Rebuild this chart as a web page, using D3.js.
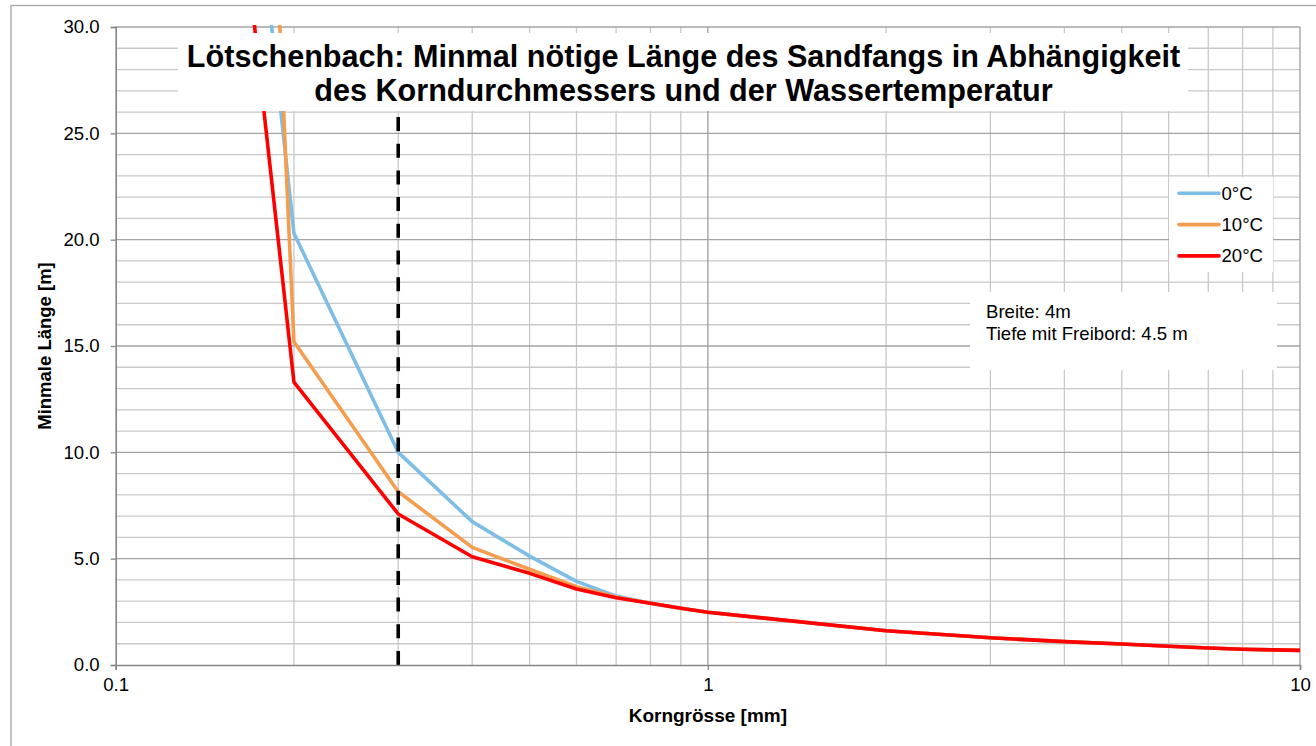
<!DOCTYPE html>
<html>
<head>
<meta charset="utf-8">
<script src="https://cdn.jsdelivr.net/npm/d3@7"></script>
<style>
  html, body { margin: 0; padding: 0; background: #fff; }
  svg { display: block; font-family: Arial, "Liberation Sans", sans-serif; }
</style>
</head>
<body>
<svg id="chart" width="1316" height="746"></svg>
<script>
// Grain size [mm]
const grainSizes = [0.1, 0.2, 0.3, 0.4, 0.5, 0.6, 0.7, 0.8, 0.9, 1, 2, 3, 4, 5, 6, 7, 8, 9, 10];
// Minimal settling-basin length [m] per water temperature
const length0C  = [98, 20.3, 10.0, 6.74, 5.12, 3.93, 3.24, 2.9, 2.67, 2.48, 1.61, 1.28, 1.1, 0.99, 0.88, 0.8, 0.74, 0.71, 0.69];
const length10C = [202, 15.2, 8.15, 5.53, 4.5, 3.68, 3.2, 2.9, 2.67, 2.48, 1.61, 1.28, 1.1, 0.99, 0.88, 0.8, 0.74, 0.71, 0.69];
const length20C = [89, 13.3, 7.1, 5.09, 4.31, 3.57, 3.16, 2.9, 2.67, 2.48, 1.61, 1.28, 1.1, 0.99, 0.88, 0.8, 0.74, 0.71, 0.69];
const seriesNames = ["0°C", "10°C", "20°C"];
const seriesColors = ["#7dbde6", "#f59d4f", "#ff0000"];
// Design grain size marker
const designGrain = [0.3];
const markerRange = [0, 30];
// Axis ticks
const xTickValues = [0.1, 1, 10];
const xTickLabels = ["0.1", "1", "10"];
const yTickValues = [0, 5, 10, 15, 20, 25, 30];
const titleLines = ["Lötschenbach: Minmal nötige Länge des Sandfangs in Abhängigkeit",
                    "des Korndurchmessers und der Wassertemperatur"];
const noteLines = ["Breite: 4m", "Tiefe mit Freibord: 4.5 m"];

const svg = d3.select("#chart");
const plot = { left: 115.7, right: 1300, top: 27, bottom: 665 };
const bodyFont = 18.6;

const x = d3.scaleLog().domain([0.1, 10]).range([plot.left, plot.right]);
const y = d3.scaleLinear().domain([0, 30]).range([plot.bottom, plot.top]);

// outer chart frame
svg.append("rect")
  .attr("x", 11).attr("y", 5.5).attr("width", 1320).attr("height", 760)
  .attr("fill", "none").attr("stroke", "#a6a6a6").attr("stroke-width", 1.3);

// gridlines
const minorX = [0.2, 0.3, 0.4, 0.5, 0.6, 0.7, 0.8, 0.9, 2, 3, 4, 5, 6, 7, 8, 9];
const minorY = d3.range(1, 30).filter(v => v % 5 !== 0);
const grid = svg.append("g");
grid.selectAll(".gx").data(minorX).join("line")
  .attr("x1", d => x(d)).attr("x2", d => x(d))
  .attr("y1", plot.top).attr("y2", plot.bottom)
  .attr("stroke", "#c9c9c9").attr("stroke-width", 1.3);
grid.selectAll(".gy").data(minorY).join("line")
  .attr("x1", plot.left).attr("x2", plot.right)
  .attr("y1", d => y(d)).attr("y2", d => y(d))
  .attr("stroke", "#c9c9c9").attr("stroke-width", 1.3);
grid.selectAll(".gxm").data([1, 10]).join("line")
  .attr("x1", d => x(d)).attr("x2", d => x(d))
  .attr("y1", plot.top).attr("y2", plot.bottom)
  .attr("stroke", "#9e9e9e").attr("stroke-width", 1.3);
grid.selectAll(".gym").data(yTickValues.filter(v => v > 0)).join("line")
  .attr("x1", plot.left).attr("x2", plot.right)
  .attr("y1", d => y(d)).attr("y2", d => y(d))
  .attr("stroke", "#a3a3a3").attr("stroke-width", 1.3);

// clip for the data lines
svg.append("clipPath").attr("id", "plotClip")
  .append("rect").attr("x", plot.left).attr("y", plot.top - 2)
  .attr("width", plot.right - plot.left + 4).attr("height", plot.bottom - plot.top + 2);

const lineGen = d3.line().x(d => x(d[0])).y(d => y(d[1]));
const allSeries = [length0C, length10C, length20C];
const lines = svg.append("g").attr("clip-path", "url(#plotClip)");
allSeries.forEach((vals, i) => {
  lines.append("path")
    .datum(grainSizes.map((g, k) => [g, vals[k]]))
    .attr("d", lineGen)
    .attr("fill", "none")
    .attr("stroke", seriesColors[i])
    .attr("stroke-width", 3.6)
    .attr("stroke-linejoin", "round");
});

// design grain size marker (dashed)
lines.selectAll(".marker").data(designGrain).join("line")
  .attr("x1", d => x(d)).attr("x2", d => x(d))
  .attr("y1", y(markerRange[0])).attr("y2", y(markerRange[1]))
  .attr("stroke", "#000").attr("stroke-width", 3.6)
  .attr("stroke-dasharray", "14,12.7");

// axes
const yAxis = d3.axisLeft(y).tickValues(yTickValues).tickFormat(d3.format(".1f")).tickSize(5).tickPadding(11);
const gy = svg.append("g").attr("transform", `translate(${plot.left},0)`).call(yAxis);
gy.select(".domain").attr("stroke", "#868686").attr("stroke-width", 1.6);
gy.selectAll(".tick line").attr("stroke", "#868686").attr("stroke-width", 1.3);
gy.selectAll(".tick text").attr("font-size", bodyFont).attr("fill", "#000")
  .attr("font-family", "Arial, 'Liberation Sans', sans-serif");

const xAxis = d3.axisBottom(x).tickValues(xTickValues)
  .tickFormat((d, i) => xTickLabels[i]).tickSize(5).tickPadding(8);
const gx = svg.append("g").attr("transform", `translate(0,${plot.bottom})`).call(xAxis);
gx.select(".domain").attr("stroke", "#868686").attr("stroke-width", 1.6);
gx.selectAll(".tick line").attr("stroke", "#868686").attr("stroke-width", 1.3);
gx.selectAll(".tick text").attr("font-size", bodyFont).attr("fill", "#000")
  .attr("font-family", "Arial, 'Liberation Sans', sans-serif");

// axis titles
svg.append("text")
  .attr("x", (plot.left + plot.right) / 2).attr("y", 722)
  .attr("text-anchor", "middle").attr("font-size", 19).attr("font-weight", "bold")
  .text("Korngrösse [mm]");
svg.append("text")
  .attr("transform", `translate(51,${(plot.top + plot.bottom) / 2}) rotate(-90)`)
  .attr("text-anchor", "middle").attr("font-size", 18.5).attr("font-weight", "bold")
  .text("Minmale Länge [m]");

// chart title on white box
svg.append("rect").attr("x", 178).attr("y", 33).attr("width", 1010).attr("height", 78).attr("fill", "#fff");
svg.append("text")
  .attr("x", 683.5).attr("text-anchor", "middle")
  .attr("font-size", 30.6).attr("font-weight", "bold")
  .selectAll("tspan").data(titleLines).join("tspan")
  .attr("x", 683.5).attr("y", (d, i) => 67 + i * 33.5).text(d => d);

// legend
const legend = svg.append("g");
legend.append("rect").attr("x", 1169).attr("y", 177).attr("width", 104).attr("height", 95).attr("fill", "#fff");
seriesNames.forEach((name, i) => {
  const ly = 193.3 + i * 31.3;
  legend.append("line").attr("x1", 1179).attr("x2", 1219).attr("y1", ly).attr("y2", ly)
    .attr("stroke", seriesColors[i]).attr("stroke-width", 3.6).attr("stroke-linecap", "round");
  legend.append("text").attr("x", 1221.5).attr("y", ly + 6.4)
    .attr("font-size", bodyFont).text(name);
});

// parameter note
svg.append("rect").attr("x", 970).attr("y", 292).attr("width", 307).attr("height", 78).attr("fill", "#fff");
svg.append("text").attr("font-size", bodyFont)
  .selectAll("tspan").data(noteLines).join("tspan")
  .attr("x", 986).attr("y", (d, i) => 317.5 + i * 22).text(d => d);
</script>
</body>
</html>
